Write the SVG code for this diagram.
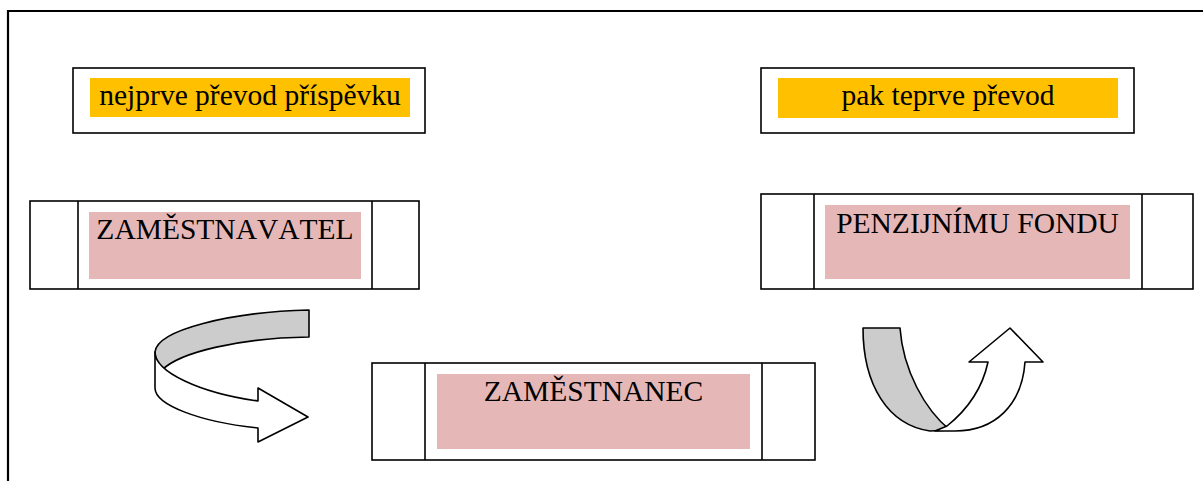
<svg xmlns="http://www.w3.org/2000/svg" width="1203" height="481" viewBox="0 0 1203 481">
<style>
.box{fill:#fff;stroke:#000;stroke-width:1.6}
.div{stroke:#000;stroke-width:1.6}
.or{fill:#FFC000}
.pk{fill:#E5B8B7}
.t{font-size:29.5px;fill:#000;text-anchor:middle;font-kerning:none}
.ar{stroke:#000;stroke-width:1.6;stroke-linejoin:round}
</style>
<rect width="1203" height="481" fill="#fff"/>
<g id="frame">
<path d="M8,481 V11 H1203" fill="none" stroke="#000" stroke-width="2.2"/>
</g>
<g id="label1">
<rect class="box" x="73" y="68" width="352" height="65"/>
<rect class="or" x="90" y="78" width="320" height="39"/>
<text class="t" font-family="Liberation Serif, DejaVu Serif, serif" x="250" y="105">nejprve převod příspěvku</text>
</g>
<g id="label2">
<rect class="box" x="761" y="68" width="373" height="65"/>
<rect class="or" x="778" y="78" width="340" height="40"/>
<text class="t" font-family="Liberation Serif, DejaVu Serif, serif" x="948" y="105">pak teprve převod</text>
</g>
<g id="zamestnavatel">
<rect class="box" x="30" y="201" width="389" height="88"/>
<line class="div" x1="78" y1="201" x2="78" y2="289"/>
<line class="div" x1="372" y1="201" x2="372" y2="289"/>
<rect class="pk" x="89" y="212" width="272" height="67"/>
<text class="t" font-family="Liberation Serif, DejaVu Serif, serif" x="225" y="239">ZAMĚSTNAVATEL</text>
</g>
<g id="penzijni">
<rect class="box" x="761" y="194" width="432" height="95"/>
<line class="div" x1="814" y1="194" x2="814" y2="289"/>
<line class="div" x1="1142" y1="194" x2="1142" y2="289"/>
<rect class="pk" x="825" y="205" width="305" height="74"/>
<text class="t" font-family="Liberation Serif, DejaVu Serif, serif" x="977.5" y="233">PENZIJNÍMU FONDU</text>
</g>
<g id="zamestnanec">
<rect class="box" x="372" y="363" width="443" height="97"/>
<line class="div" x1="425" y1="363" x2="425" y2="460"/>
<line class="div" x1="762" y1="363" x2="762" y2="460"/>
<rect class="pk" x="437" y="374" width="313" height="75"/>
<text class="t" font-family="Liberation Serif, DejaVu Serif, serif" x="593.5" y="401">ZAMĚSTNANEC</text>
</g>
<g id="connectors">
<g id="arrow-left">
<path class="ar" fill="#CCCCCC" d="M309,310 L309,337 C240,338 180,352 162,370 C158,364 155,358 155,352 C157,330 230,312 309,310 Z"/>
<path class="ar" fill="#FFFFFF" d="M155,352 C155,372 200,393 258,401 L258,388 L308,417 L258,442 L258,428 C200,422 155,405 155,388 Z"/>
</g>
<g id="arrow-right">
<path class="ar" fill="#CCCCCC" d="M863,328 L900,328 C903,370 925,410 950,430 L930,431 C888,425 863,385 863,328 Z"/>
<path class="ar" fill="#FFFFFF" d="M947,426 C967,410 982,390 988,362 L969,362 L1010,328 L1043,362 L1025,362 C1022,405 995,431 955,431 L935,431 Z"/>
</g>
</g>
</svg>
